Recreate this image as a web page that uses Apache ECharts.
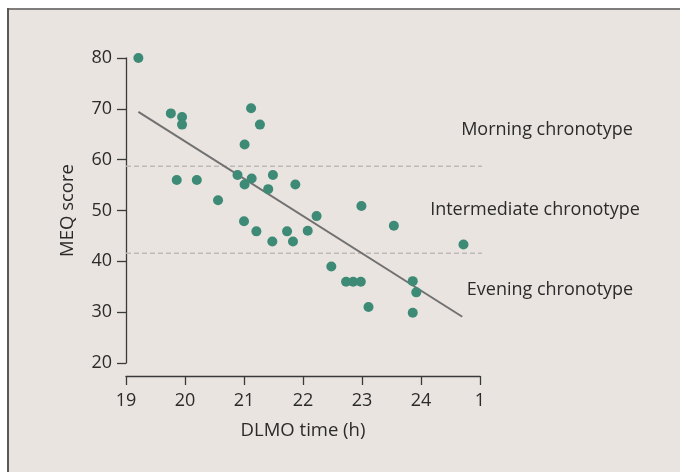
<!DOCTYPE html>
<html>
<head>
<meta charset="utf-8">
<script src="https://cdn.jsdelivr.net/npm/echarts@6/dist/echarts.min.js"></script>
<style>
html,body{margin:0;padding:0;background:#ffffff;}
#c{width:680px;height:472px;}
</style>
</head>
<body>
<div id="c"></div>
<script>
// DLMO time (h) and MEQ score
var dlmo = [19.21, 19.76, 19.95, 19.95, 19.86, 20.20, 20.56, 20.89, 21.01, 21.13, 21.01, 21.12, 21.27, 21.41, 21.49, 21.87, 21.00, 21.21, 21.48, 21.73, 21.83, 22.08, 22.23, 22.48, 22.73, 22.85, 22.98, 22.99, 23.11, 23.54, 23.86, 23.92, 23.86, 24.72];
var meq  = [80.0, 69.1, 68.4, 66.9, 56.0, 56.0, 52.0, 57.0, 55.1, 56.3, 63.0, 70.1, 66.9, 54.2, 57.0, 55.1, 47.9, 45.9, 43.9, 45.9, 43.9, 46.0, 48.9, 39.0, 36.0, 36.0, 36.0, 50.9, 31.0, 47.0, 36.1, 33.9, 29.9, 43.3];
// regression line endpoints
var fitX = [19.21, 24.70];
var fitY = [69.4, 29.1];
// chronotype cut-off levels and their extent
var cutoffs = [58.7, 41.6];
var cutoffExtent = [19, 25.06];
// axis ticks
var xTicks = [19, 20, 21, 22, 23, 24, 25];
var xTickLabels = ['19', '20', '21', '22', '23', '24', '1'];
var yTicks = [20, 30, 40, 50, 60, 70, 80];
var zoneLabels = ['Morning chronotype', 'Intermediate chronotype', 'Evening chronotype'];

var FONT = 'Open Sans';
var chart = echarts.init(document.getElementById('c'));

var points = dlmo.map(function (x, i) { return [x, meq[i]]; });
var fitData = fitX.map(function (x, i) { return [x, fitY[i]]; });

var cutoffSeries = cutoffs.map(function (v) {
  return {
    type: 'line',
    data: [[cutoffExtent[0], v], [cutoffExtent[1], v]],
    symbol: 'none',
    clip: false,
    silent: true,
    z: 1,
    lineStyle: { color: '#bdb9b6', width: 1.5, type: [5, 3] }
  };
});

var option = {
  backgroundColor: '#ffffff',
  animation: false,
  textStyle: { fontFamily: FONT },
  graphic: [
    { type: 'rect', shape: { x: 7, y: 8, width: 673, height: 464 }, style: { fill: '#e9e4e0' }, z: -10, silent: true },
    { type: 'line', shape: { x1: 7, y1: 9, x2: 680, y2: 9 }, style: { stroke: '#7f7d7c', lineWidth: 2 }, z: -9, silent: true },
    { type: 'line', shape: { x1: 8, y1: 8, x2: 8, y2: 472 }, style: { stroke: '#5a5858', lineWidth: 2 }, z: -9, silent: true },
    { type: 'text', x: 547, y: 130, style: { text: zoneLabels[0], fontFamily: FONT, fontSize: 18, fill: '#2b2b2b', align: 'center', verticalAlign: 'middle' } },
    { type: 'text', x: 535, y: 210, style: { text: zoneLabels[1], fontFamily: FONT, fontSize: 18, fill: '#2b2b2b', align: 'center', verticalAlign: 'middle' } },
    { type: 'text', x: 550, y: 290, style: { text: zoneLabels[2], fontFamily: FONT, fontSize: 18, fill: '#2b2b2b', align: 'center', verticalAlign: 'middle' } }
  ],
  grid: { left: 126, right: 200, top: 58, bottom: 109 },
  xAxis: {
    type: 'value',
    min: 19, max: 25, interval: 1,
    offset: 13,
    name: 'DLMO time (h)',
    nameLocation: 'middle',
    nameGap: 45,
    nameTextStyle: { fontFamily: FONT, fontSize: 18.5, color: '#2b2b2b' },
    axisLine: { show: true, lineStyle: { color: '#3a3a3a', width: 1.3 } },
    axisTick: { show: true, length: 9, inside: false, lineStyle: { color: '#3a3a3a', width: 1.3 } },
    axisLabel: {
      fontFamily: FONT, fontSize: 18, color: '#2b2b2b', margin: 16,
      formatter: function (v) { var i = xTicks.indexOf(v); return i >= 0 ? xTickLabels[i] : ''; }
    },
    splitLine: { show: false }
  },
  yAxis: {
    type: 'value',
    min: 20, max: 80, interval: 10,
    name: 'MEQ score',
    nameLocation: 'middle',
    nameGap: 49,
    nameTextStyle: { fontFamily: FONT, fontSize: 18.5, color: '#2b2b2b' },
    axisLine: { show: true, lineStyle: { color: '#3a3a3a', width: 1.3 } },
    axisTick: { show: true, length: 9, lineStyle: { color: '#3a3a3a', width: 1.3 } },
    axisLabel: {
      fontFamily: FONT, fontSize: 18, color: '#2b2b2b', margin: 14,
      formatter: function (v) { return yTicks.indexOf(v) >= 0 ? String(v) : ''; }
    },
    splitLine: { show: false }
  },
  series: cutoffSeries.concat([
    {
      type: 'line',
      data: fitData,
      symbol: 'none',
      silent: true,
      z: 2,
      lineStyle: { color: '#717171', width: 2 }
    },
    {
      type: 'scatter',
      data: points,
      symbol: 'circle',
      symbolSize: 10,
      z: 3,
      itemStyle: { color: '#3d8a76', opacity: 1 }
    }
  ])
};
chart.setOption(option);
</script>
</body>
</html>
